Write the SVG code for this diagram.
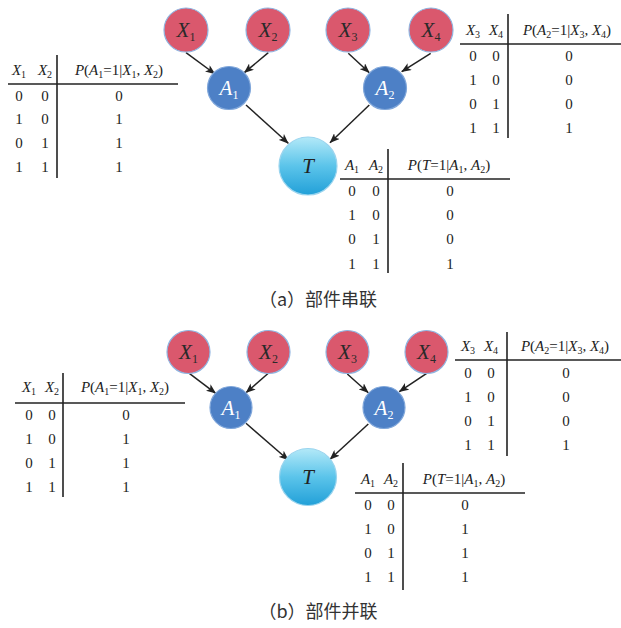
<svg xmlns="http://www.w3.org/2000/svg" width="621" height="628" viewBox="0 0 621 628">
<defs>
<style>
.t{font-family:"Liberation Serif","Times New Roman",serif;font-size:15px;fill:#222}
.h{text-anchor:middle}
.i{font-style:italic}
.s{font-size:10px}
.rule{stroke:#222;stroke-width:1.6;fill:none}
.xn{fill:#DA586D;stroke:#8FB4E0;stroke-width:1.2}
.an{fill:#4D80C6;stroke:#7FA6DA;stroke-width:1.2}
.tn{fill:url(#tg);stroke:#9AD4EE;stroke-width:1.2}
.nl{font-family:"Liberation Serif","Times New Roman",serif;font-style:italic;font-size:21px;text-anchor:middle}
.ns{font-size:12px;font-style:normal}
.edge{stroke:#222;stroke-width:1.5;fill:none;marker-end:url(#ah)}
.cap{font-family:"Noto Sans CJK SC","Noto Sans",sans-serif;font-size:18px;fill:#333;text-anchor:middle}
</style>
<linearGradient id="tg" x1="0" y1="0" x2="0" y2="1">
<stop offset="0" stop-color="#B3E9F8"/>
<stop offset="0.5" stop-color="#5BC4EA"/>
<stop offset="1" stop-color="#22A0D8"/>
</linearGradient>
<marker id="ah" viewBox="0 0 10 8" refX="9.5" refY="4" markerWidth="10" markerHeight="8" markerUnits="userSpaceOnUse" orient="auto">
<path d="M0,0 L10,4 L0,8 L2.5,4 z" fill="#222"/>
</marker>
</defs>

<!-- ===== (a) ===== -->
<g id="edges-a">
<line class="edge" x1="186" y1="52.7" x2="215" y2="74"/>
<line class="edge" x1="268.3" y1="52.7" x2="244.3" y2="72.7"/>
<line class="edge" x1="348.3" y1="53.3" x2="369.3" y2="72.7"/>
<line class="edge" x1="430.7" y1="53.3" x2="401.7" y2="71.7"/>
<line class="edge" x1="246" y1="105" x2="288.3" y2="143.3"/>
<line class="edge" x1="369.3" y1="105" x2="330" y2="142.7"/>
</g>
<g id="a-X1"><circle class="xn" cx="186" cy="30" r="22"/><text class="nl" x="186" y="37" fill="#2a2a2a">X<tspan class="ns" dy="4">1</tspan></text></g>
<g id="a-X2"><circle class="xn" cx="268" cy="30" r="22"/><text class="nl" x="268" y="37" fill="#2a2a2a">X<tspan class="ns" dy="4">2</tspan></text></g>
<g id="a-X3"><circle class="xn" cx="348" cy="30" r="22"/><text class="nl" x="348" y="37" fill="#2a2a2a">X<tspan class="ns" dy="4">3</tspan></text></g>
<g id="a-X4"><circle class="xn" cx="431" cy="30" r="22"/><text class="nl" x="431" y="37" fill="#2a2a2a">X<tspan class="ns" dy="4">4</tspan></text></g>
<g id="a-A1"><circle class="an" cx="229" cy="88" r="21.5"/><text class="nl" x="229" y="95" fill="#fff">A<tspan class="ns" dy="4">1</tspan></text></g>
<g id="a-A2"><circle class="an" cx="385" cy="88" r="21.5"/><text class="nl" x="385" y="95" fill="#fff">A<tspan class="ns" dy="4">2</tspan></text></g>
<g id="a-T"><circle class="tn" cx="308" cy="166" r="29"/><text class="nl" x="308" y="173" fill="#222" font-size="23">T</text></g>

<g id="a-table1">
<line class="rule" x1="8" y1="84" x2="178" y2="84"/>
<line class="rule" x1="57" y1="55" x2="57" y2="178"/>
<text class="t h" x="19" y="75"><tspan class="i">X</tspan><tspan class="s" dy="3">1</tspan></text>
<text class="t h" x="45" y="75"><tspan class="i">X</tspan><tspan class="s" dy="3">2</tspan></text>
<text class="t h" x="119" y="75"><tspan class="i">P</tspan>(<tspan class="i">A</tspan><tspan class="s" dy="3">1</tspan><tspan dy="-3">=1|</tspan><tspan class="i">X</tspan><tspan class="s" dy="3">1</tspan><tspan dy="-3">, </tspan><tspan class="i">X</tspan><tspan class="s" dy="3">2</tspan><tspan dy="-3">)</tspan></text>
<text class="t h" x="19" y="101">0</text><text class="t h" x="45" y="101">0</text><text class="t h" x="119" y="101">0</text>
<text class="t h" x="19" y="124">1</text><text class="t h" x="45" y="124">0</text><text class="t h" x="119" y="124">1</text>
<text class="t h" x="19" y="148">0</text><text class="t h" x="45" y="148">1</text><text class="t h" x="119" y="148">1</text>
<text class="t h" x="19" y="172">1</text><text class="t h" x="45" y="172">1</text><text class="t h" x="119" y="172">1</text>
</g>

<g id="a-table2">
<line class="rule" x1="460" y1="44" x2="621" y2="44"/>
<line class="rule" x1="508" y1="14" x2="508" y2="138"/>
<text class="t h" x="473" y="35"><tspan class="i">X</tspan><tspan class="s" dy="3">3</tspan></text>
<text class="t h" x="496" y="35"><tspan class="i">X</tspan><tspan class="s" dy="3">4</tspan></text>
<text class="t h" x="567" y="35"><tspan class="i">P</tspan>(<tspan class="i">A</tspan><tspan class="s" dy="3">2</tspan><tspan dy="-3">=1|</tspan><tspan class="i">X</tspan><tspan class="s" dy="3">3</tspan><tspan dy="-3">, </tspan><tspan class="i">X</tspan><tspan class="s" dy="3">4</tspan><tspan dy="-3">)</tspan></text>
<text class="t h" x="473" y="61">0</text><text class="t h" x="496" y="61">0</text><text class="t h" x="569" y="61">0</text>
<text class="t h" x="473" y="85">1</text><text class="t h" x="496" y="85">0</text><text class="t h" x="569" y="85">0</text>
<text class="t h" x="473" y="109">0</text><text class="t h" x="496" y="109">1</text><text class="t h" x="569" y="109">0</text>
<text class="t h" x="473" y="133">1</text><text class="t h" x="496" y="133">1</text><text class="t h" x="569" y="133">1</text>
</g>

<g id="a-table3">
<line class="rule" x1="340" y1="179" x2="510" y2="179"/>
<line class="rule" x1="388" y1="149" x2="388" y2="273"/>
<text class="t h" x="352" y="170"><tspan class="i">A</tspan><tspan class="s" dy="3">1</tspan></text>
<text class="t h" x="376" y="170"><tspan class="i">A</tspan><tspan class="s" dy="3">2</tspan></text>
<text class="t h" x="449" y="170"><tspan class="i">P</tspan>(<tspan class="i">T</tspan>=1|<tspan class="i">A</tspan><tspan class="s" dy="3">1</tspan><tspan dy="-3">, </tspan><tspan class="i">A</tspan><tspan class="s" dy="3">2</tspan><tspan dy="-3">)</tspan></text>
<text class="t h" x="352" y="196">0</text><text class="t h" x="376" y="196">0</text><text class="t h" x="450" y="196">0</text>
<text class="t h" x="352" y="220">1</text><text class="t h" x="376" y="220">0</text><text class="t h" x="450" y="220">0</text>
<text class="t h" x="352" y="244">0</text><text class="t h" x="376" y="244">1</text><text class="t h" x="450" y="244">0</text>
<text class="t h" x="352" y="269">1</text><text class="t h" x="376" y="269">1</text><text class="t h" x="450" y="269">1</text>
</g>

<text class="cap" x="318" y="306">（a）部件串联</text>

<!-- ===== (b) ===== -->
<g id="edges-b">
<line class="edge" x1="189.3" y1="373.3" x2="215.7" y2="393.3"/>
<line class="edge" x1="268.3" y1="373.3" x2="246" y2="392.7"/>
<line class="edge" x1="347.3" y1="374" x2="368.3" y2="392.7"/>
<line class="edge" x1="426.7" y1="373.3" x2="399.3" y2="391.7"/>
<line class="edge" x1="246" y1="423.3" x2="288.3" y2="460"/>
<line class="edge" x1="368.3" y1="424" x2="330" y2="459.3"/>
</g>
<g id="b-X1"><circle class="xn" cx="188.5" cy="352" r="21.5"/><text class="nl" x="188.5" y="359" fill="#2a2a2a">X<tspan class="ns" dy="4">1</tspan></text></g>
<g id="b-X2"><circle class="xn" cx="268.5" cy="352" r="21.5"/><text class="nl" x="268.5" y="359" fill="#2a2a2a">X<tspan class="ns" dy="4">2</tspan></text></g>
<g id="b-X3"><circle class="xn" cx="347.5" cy="352" r="21.5"/><text class="nl" x="347.5" y="359" fill="#2a2a2a">X<tspan class="ns" dy="4">3</tspan></text></g>
<g id="b-X4"><circle class="xn" cx="426.5" cy="352" r="21.5"/><text class="nl" x="426.5" y="359" fill="#2a2a2a">X<tspan class="ns" dy="4">4</tspan></text></g>
<g id="b-A1"><circle class="an" cx="231" cy="407.5" r="21"/><text class="nl" x="231" y="414.5" fill="#fff">A<tspan class="ns" dy="4">1</tspan></text></g>
<g id="b-A2"><circle class="an" cx="384" cy="407.5" r="21"/><text class="nl" x="384" y="414.5" fill="#fff">A<tspan class="ns" dy="4">2</tspan></text></g>
<g id="b-T"><circle class="tn" cx="308" cy="477" r="28.5"/><text class="nl" x="308" y="484" fill="#222" font-size="23">T</text></g>

<g id="b-table1">
<line class="rule" x1="15" y1="403" x2="185" y2="403"/>
<line class="rule" x1="63" y1="373" x2="63" y2="497"/>
<text class="t h" x="29" y="392"><tspan class="i">X</tspan><tspan class="s" dy="3">1</tspan></text>
<text class="t h" x="52" y="392"><tspan class="i">X</tspan><tspan class="s" dy="3">2</tspan></text>
<text class="t h" x="125" y="392"><tspan class="i">P</tspan>(<tspan class="i">A</tspan><tspan class="s" dy="3">1</tspan><tspan dy="-3">=1|</tspan><tspan class="i">X</tspan><tspan class="s" dy="3">1</tspan><tspan dy="-3">, </tspan><tspan class="i">X</tspan><tspan class="s" dy="3">2</tspan><tspan dy="-3">)</tspan></text>
<text class="t h" x="29" y="420">0</text><text class="t h" x="52" y="420">0</text><text class="t h" x="126" y="420">0</text>
<text class="t h" x="29" y="444">1</text><text class="t h" x="52" y="444">0</text><text class="t h" x="126" y="444">1</text>
<text class="t h" x="29" y="468">0</text><text class="t h" x="52" y="468">1</text><text class="t h" x="126" y="468">1</text>
<text class="t h" x="29" y="492">1</text><text class="t h" x="52" y="492">1</text><text class="t h" x="126" y="492">1</text>
</g>

<g id="b-table2">
<line class="rule" x1="455" y1="360" x2="621" y2="360"/>
<line class="rule" x1="507" y1="332" x2="507" y2="456"/>
<text class="t h" x="468" y="351"><tspan class="i">X</tspan><tspan class="s" dy="3">3</tspan></text>
<text class="t h" x="491" y="351"><tspan class="i">X</tspan><tspan class="s" dy="3">4</tspan></text>
<text class="t h" x="565" y="351"><tspan class="i">P</tspan>(<tspan class="i">A</tspan><tspan class="s" dy="3">2</tspan><tspan dy="-3">=1|</tspan><tspan class="i">X</tspan><tspan class="s" dy="3">3</tspan><tspan dy="-3">, </tspan><tspan class="i">X</tspan><tspan class="s" dy="3">4</tspan><tspan dy="-3">)</tspan></text>
<text class="t h" x="468" y="378">0</text><text class="t h" x="491" y="378">0</text><text class="t h" x="566" y="378">0</text>
<text class="t h" x="468" y="402">1</text><text class="t h" x="491" y="402">0</text><text class="t h" x="566" y="402">0</text>
<text class="t h" x="468" y="426">0</text><text class="t h" x="491" y="426">1</text><text class="t h" x="566" y="426">0</text>
<text class="t h" x="468" y="450">1</text><text class="t h" x="491" y="450">1</text><text class="t h" x="566" y="450">1</text>
</g>

<g id="b-table3">
<line class="rule" x1="355" y1="493" x2="525" y2="493"/>
<line class="rule" x1="403" y1="463" x2="403" y2="590"/>
<text class="t h" x="368" y="484"><tspan class="i">A</tspan><tspan class="s" dy="3">1</tspan></text>
<text class="t h" x="391" y="484"><tspan class="i">A</tspan><tspan class="s" dy="3">2</tspan></text>
<text class="t h" x="464" y="484"><tspan class="i">P</tspan>(<tspan class="i">T</tspan>=1|<tspan class="i">A</tspan><tspan class="s" dy="3">1</tspan><tspan dy="-3">, </tspan><tspan class="i">A</tspan><tspan class="s" dy="3">2</tspan><tspan dy="-3">)</tspan></text>
<text class="t h" x="368" y="510">0</text><text class="t h" x="391" y="510">0</text><text class="t h" x="465" y="510">0</text>
<text class="t h" x="368" y="534">1</text><text class="t h" x="391" y="534">0</text><text class="t h" x="465" y="534">1</text>
<text class="t h" x="368" y="558">0</text><text class="t h" x="391" y="558">1</text><text class="t h" x="465" y="558">1</text>
<text class="t h" x="368" y="582">1</text><text class="t h" x="391" y="582">1</text><text class="t h" x="465" y="582">1</text>
</g>

<text class="cap" x="318" y="618">（b）部件并联</text>
</svg>
